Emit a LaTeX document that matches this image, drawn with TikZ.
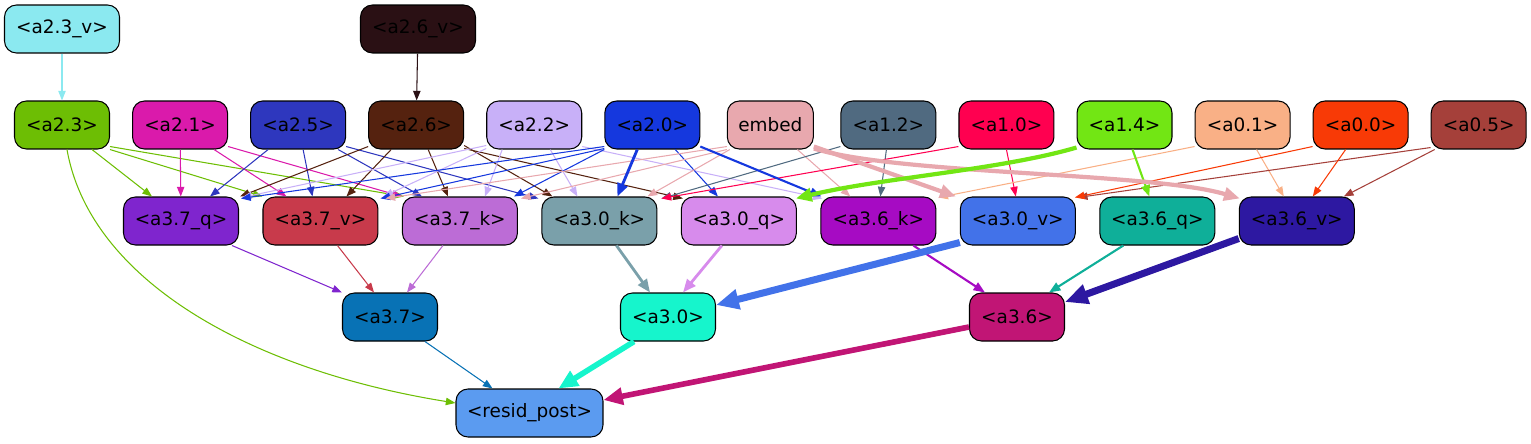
\documentclass[tikz,border=0pt]{standalone}
\usepackage{fontspec}
\setmainfont{DejaVu Sans}
\usetikzlibrary{positioning, arrows.meta, calc}

\definecolor{c23v}{HTML}{8BE9F0}
\definecolor{c26v}{HTML}{2A1014}
\definecolor{c23}{HTML}{6DBE04}
\definecolor{c21}{HTML}{DA1AAB}
\definecolor{c25}{HTML}{2E37BE}
\definecolor{c26}{HTML}{55220F}
\definecolor{c22}{HTML}{C8B0F8}
\definecolor{c20}{HTML}{1538DE}
\definecolor{cemb}{HTML}{E8A8AE}
\definecolor{c12}{HTML}{506A80}
\definecolor{c10}{HTML}{FF0050}
\definecolor{c14}{HTML}{72E614}
\definecolor{c01}{HTML}{F9B086}
\definecolor{c00}{HTML}{F83A06}
\definecolor{c05}{HTML}{A5403A}
\definecolor{cq37}{HTML}{7F25CE}
\definecolor{cv37}{HTML}{C83A4B}
\definecolor{ck37}{HTML}{BC6CD6}
\definecolor{ck30}{HTML}{7AA0AA}
\definecolor{cq30}{HTML}{D78BEC}
\definecolor{ck36}{HTML}{A60BC3}
\definecolor{cv30}{HTML}{4272E9}
\definecolor{cq36}{HTML}{0FAF99}
\definecolor{cv36}{HTML}{2D18A1}
\definecolor{c37}{HTML}{0872B5}
\definecolor{c30}{HTML}{16F5CC}
\definecolor{c36}{HTML}{C11575}
\definecolor{cres}{HTML}{5B9BF0}

\begin{document}
\begin{tikzpicture}[x=0.02cm, y=-0.02cm, on grid, node distance=2.3616cm,
  nd/.style={draw=black, line width=0.6pt, rounded corners=6.8pt, minimum width=1.9cm,
    minimum height=0.96cm, inner sep=0pt, font=\fontsize{10.5}{12}\selectfont},
  wnd/.style={nd, minimum width=2.3cm},
  w1/.style={line width=0.6pt, -{Triangle[length=5.5pt,width=4.2pt]}},
  w2/.style={line width=1.2pt, -{Triangle[length=6.5pt,width=5pt]}},
  w3/.style={line width=1.6pt, -{Triangle[length=7.5pt,width=6pt]}},
  w4/.style={line width=2.4pt, -{Triangle[length=9pt,width=7.5pt]}},
  w5/.style={line width=3.2pt, -{Triangle[length=11pt,width=9.5pt]}},
  w6/.style={line width=4pt, -{Triangle[length=13pt,width=11pt]}}]
  \useasboundingbox (0,0) rectangle (1531,443);

  \node[wnd, fill=c23v] (a23v) at (62,29) {<a2.3\_v>};
  \node[wnd, fill=c26v] (a26v) at (418,29) {<a2.6\_v>};

  \node[nd, fill=c23] (a23) at (62,125) {<a2.3>};
  \node[nd, fill=c21] (a21) [right=of a23] {<a2.1>};
  \node[nd, fill=c25] (a25) [right=of a21] {<a2.5>};
  \node[nd, fill=c26] (a26) [right=of a25] {<a2.6>};
  \node[nd, fill=c22] (a22) [right=of a26] {<a2.2>};
  \node[nd, fill=c20] (a20) [right=of a22] {<a2.0>};
  \node[nd, fill=cemb, minimum width=1.72cm] (emb) [right=of a20] {embed};
  \node[nd, fill=c12] (a12) [right=of emb] {<a1.2>};
  \node[nd, fill=c10] (a10) [right=of a12] {<a1.0>};
  \node[nd, fill=c14] (a14) [right=of a10] {<a1.4>};
  \node[nd, fill=c01] (a01) [right=of a14] {<a0.1>};
  \node[nd, fill=c00] (a00) [right=of a01] {<a0.0>};
  \node[nd, fill=c05] (a05) [right=of a00] {<a0.5>};

  \node[wnd, fill=cq37] (q37) at (181,221) {<a3.7\_q>};
  \node[wnd, fill=cv37] (v37) [right=2.79cm of q37] {<a3.7\_v>};
  \node[wnd, fill=ck37] (k37) [right=2.79cm of v37] {<a3.7\_k>};
  \node[wnd, fill=ck30] (k30) [right=2.79cm of k37] {<a3.0\_k>};
  \node[wnd, fill=cq30] (q30) [right=2.79cm of k30] {<a3.0\_q>};
  \node[wnd, fill=ck36] (k36) [right=2.79cm of q30] {<a3.6\_k>};
  \node[wnd, fill=cv30] (v30) [right=2.79cm of k36] {<a3.0\_v>};
  \node[wnd, fill=cq36] (q36) [right=2.79cm of v30] {<a3.6\_q>};
  \node[wnd, fill=cv36] (v36) [right=2.79cm of q36] {<a3.6\_v>};

  \node[nd, fill=c37] (a37) at (390,317) {<a3.7>};
  \node[nd, fill=c30] (a30) at (668,317) {<a3.0>};
  \node[nd, fill=c36] (a36) at (1017,317) {<a3.6>};
  \node[nd, fill=cres, minimum width=2.94cm] (resid) at (529.5,413) {<resid\_post>};

  % thin edges
  \path[w1]
    (a23v) edge[c23v] (a23)
    (a26v) edge[c26v] (a26)
    ($(a23.south)+(30,0)$) edge[c23] ($(q37.north)+(-29,0)$)
    (a23.south east) edge[c23] (v37.north west)
    ($(a23.south east)+(0,-3)$) edge[c23] ($(k37.north west)+(2,0)$)
    (a21) edge[c21] (q37)
    ($(a21.south)+(34,0)$) edge[c21] ($(v37.north)+(-34,0)$)
    ($(a21.south east)+(0,-3)$) edge[c21] (k37.north west)
    ($(a25.south)+(-30,0)$) edge[c25] ($(q37.north)+(29,0)$)
    ($(a25.south)+(5,0)$) edge[c25] ($(v37.north)+(-8,0)$)
    ($(a25.south)+(40,0)$) edge[c25] ($(k37.north)+(-38,0)$)
    ($(a25.south east)+(0,-3)$) edge[c25] ($(k30.north west)+(-3,2)$)
    ($(a26.south west)+(0,-3)$) edge[c26] ($(q37.north east)+(1,0)$)
    ($(a26.south)+(-25,0)$) edge[c26] ($(v37.north)+(26,0)$)
    ($(a26.south)+(12,0)$) edge[c26] ($(k37.north)+(-12,0)$)
    ($(a26.south east)+(0,-4)$) edge[c26] ($(k30.north)+(-47,0)$)
    ($(a26.south east)+(0,-1)$) edge[c26] ($(q30.north west)+(2,2)$)
    ($(a22.south west)+(0,-4)$) edge[c22] ($(q37.north east)+(3,1)$)
    ($(a22.south west)+(0,-1)$) edge[c22] ($(v37.north east)+(5,0)$)
    ($(a22.south)+(-32,0)$) edge[c22] ($(k37.north)+(25,0)$)
    ($(a22.south)+(16,0)$) edge[c22] ($(k30.north)+(-22,0)$)
    ($(a22.south east)+(0,-3)$) edge[c22] ($(k36.north west)+(2,2)$)
    ($(a20.south west)+(0,-3)$) edge[c20] ($(q37.north east)+(2,2)$)
    ($(a20.south west)+(0,-1)$) edge[c20] ($(v37.north east)+(2,2)$)
    (a20.south west) edge[c20] ($(k37.north east)+(-4,0)$)
    ($(a20.south)+(23,0)$) edge[c20] ($(q30.north)+(-21,0)$)
    ($(emb.south west)+(0,-3)$) edge[cemb] ($(v37.north east)+(7,2)$)
    (emb.south west) edge[cemb] ($(k37.north east)+(3,2)$)
    ($(emb.south west)+(3,0)$) edge[cemb] ($(k30.north)+(48,0)$)
    ($(emb.south)+(27,0)$) edge[cemb] ($(k36.north)+(-28,0)$)
    ($(a12.south west)+(0,-3)$) edge[c12] ($(k30.north east)+(4,2)$)
    ($(a12.south)+(-2,0)$) edge[c12] ($(k36.north)+(2,0)$)
    ($(a10.south west)+(0,-3)$) edge[c10] ($(k30.north east)+(4,2)$)
    (a10.south) edge[c10] ($(v30.north)+(-2,0)$)
    ($(a01.south west)+(0,-3)$) edge[c01] ($(k36.north east)+(2,1)$)
    ($(a01.south)+(14,0)$) edge[c01] ($(v36.north)+(-13,0)$)
    ($(a05.south west)+(0,-2)$) edge[c05] ($(v30.north east)+(2,1)$)
    ($(a05.south west)+(4,0)$) edge[c05] ($(v36.north east)+(-11,0)$)
    ($(a00.south west)+(0,-3)$) edge[c00] ($(v30.north east)+(-1,1)$)
    ($(a00.south)+(-15,0)$) edge[c00] ($(v36.north)+(16,0)$)
    ($(q37.south)+(51,0)$) edge[cq37] (a37.north west)
    ($(v37.south)+(17,0)$) edge[cv37] ($(a37.north)+(-16,0)$)
    ($(k37.south)+(-17,0)$) edge[ck37] ($(a37.north)+(17,0)$)
    ($(a37.south)+(35,0)$) edge[c37] ($(resid.north)+(-37,0)$);
  \draw[w1, c23] ($(a23.south)+(5,0)$) .. controls (90,280) and (250,370) .. ($(resid.west)+(0,-10)$);

  % heavier edges
  \path[w2]
    ($(a20.south east)+(0,-3)$) edge[c20] ($(k36.north west)+(1,0)$)
    ($(a14.south)+(8,0)$) edge[c14] ($(q36.north)+(-8,0)$)
    ($(k36.south)+(35,0)$) edge[ck36] ($(a36.north)+(-32,0)$)
    ($(q36.south)+(-34,0)$) edge[cq36] ($(a36.north)+(32,0)$);
  \path[w3]
    ($(a20.south)+(-15,0)$) edge[c20] ($(k30.north)+(18,0)$)
    ($(k30.south)+(17,0)$) edge[ck30] ($(a30.north)+(-18,0)$)
    ($(q30.south)+(-17,0)$) edge[cq30] ($(a30.north)+(15,0)$);
  \path[w4]
    ($(emb.south east)+(0,-3)$) edge[cemb] ($(v30.north west)+(-4,0)$);
  \draw[w4, cemb] ($(emb.south east)+(0,-1)$) .. controls (900,175) and (1150,172) .. ($(v36.north west)+(1,2)$);
  \draw[w4, c14] ($(a14.south west)+(0,-2)$) .. controls (1000,170) and (880,178) .. ($(q30.north east)+(-1,2)$);
  \path[w5]
    ($(a30.south)+(-34,0)$) edge[c30] ($(resid.north)+(29,0)$)
    ($(a36.west)+(0,10)$) edge[c36] ($(resid.east)+(0,-13)$);
  \path[w6]
    ($(v30.south west)+(0,-3)$) edge[cv30] ($(a30.east)+(0,-12)$)
    ($(v36.south west)+(0,-7)$) edge[cv36] ($(a36.east)+(0,-15)$);
\end{tikzpicture}
\end{document}
